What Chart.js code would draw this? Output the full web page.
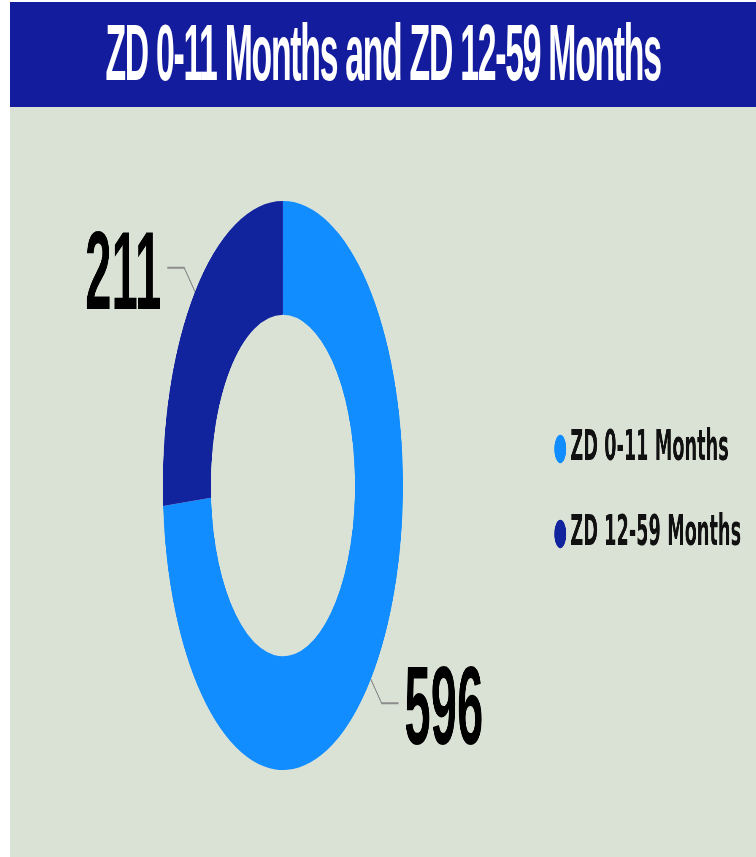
<!DOCTYPE html>
<html><head><meta charset="utf-8">
<script src="https://cdn.jsdelivr.net/npm/chart.js@4"></script>
<style>
html,body{margin:0;padding:0;background:#fff;width:756px;height:857px;overflow:hidden;}
#wrap{position:absolute;left:10px;top:2px;width:1768px;height:855px;transform:scaleX(0.422);transform-origin:0 0;background:#dae2d6;}
#title{height:105px;background:#141c9e;color:#fff;font:bold 80px "Liberation Sans",Arial,sans-serif;letter-spacing:-3px;text-align:center;line-height:101px;white-space:nowrap;}
canvas{display:block;}
</style></head><body>
<div id="wrap"><div id="title">ZD 0-11 Months and ZD 12-59 Months</div><canvas id="c" width="1768" height="750"></canvas></div>
<script>
const categories = ['ZD 0-11 Months', 'ZD 12-59 Months'];
const values = [596, 211];
const colors = ['#118dff', '#12239e'];

const W = 1768;
const legendFont = {family: '"DejaVu Sans", sans-serif', size: 42, weight: 'bold'};
const legendPad = 43, legendBox = 6, legendLeft = 1268, centerX = 651.7;

// measure legend text so the legend box starts where wanted
const mctx = document.createElement('canvas').getContext('2d');
mctx.font = 'bold 42px "DejaVu Sans", sans-serif';
const maxText = Math.max(...categories.map(t => mctx.measureText(t).width));
const padR = W - (legendLeft + legendPad + legendBox + legendFont.size / 2 + maxText);
const padL = 2 * centerX - legendLeft;

const outLabels = {
  id: 'outLabels',
  afterDatasetsDraw(chart) {
    const ctx = chart.ctx;
    const meta = chart.getDatasetMeta(0);
    meta.data.forEach((arc, i) => {
      const {x, y, startAngle, endAngle, outerRadius} = arc.getProps(['x', 'y', 'startAngle', 'endAngle', 'outerRadius'], true);
      const mid = (startAngle + endAngle) / 2;
      const c = Math.cos(mid), s = Math.sin(mid);
      const px = x + c * outerRadius, py = y + s * outerRadius;
      const ex = px + c * 35, ey = py + s * 35;
      const dir = c >= 0 ? 1 : -1;
      const hx = ex + dir * 40;
      ctx.save();
      ctx.strokeStyle = '#8c8c8c';
      ctx.lineWidth = 2;
      ctx.beginPath();
      ctx.moveTo(px, py); ctx.lineTo(ex, ey); ctx.lineTo(hx, ey);
      ctx.stroke();
      ctx.fillStyle = '#000';
      ctx.font = 'bold 112px "Liberation Sans", Arial, sans-serif';
      ctx.textAlign = dir > 0 ? 'left' : 'right';
      ctx.textBaseline = 'middle';
      ctx.fillText(String(chart.data.datasets[0].data[i]), hx + dir * 14, ey + 10);
      ctx.restore();
    });
  }
};

new Chart(document.getElementById('c'), {
  type: 'doughnut',
  data: {
    labels: categories,
    datasets: [{data: values, backgroundColor: colors, borderWidth: 0, hoverOffset: 0}]
  },
  options: {
    responsive: false,
    devicePixelRatio: 1,
    animation: false,
    events: [],
    cutout: '60%',
    layout: {padding: {top: 94, bottom: 87, left: padL, right: padR}},
    plugins: {
      tooltip: {enabled: false},
      legend: {
        position: 'right',
        align: 'center',
        title: {display: true, text: '', padding: 0, font: {size: 10, lineHeight: 1.2}},
        labels: {
          usePointStyle: true,
          pointStyle: 'circle',
          boxWidth: legendBox,
          boxHeight: 20,
          padding: legendPad,
          color: '#111',
          font: legendFont
        }
      }
    }
  },
  plugins: [outLabels]
});
</script>
</body></html>
